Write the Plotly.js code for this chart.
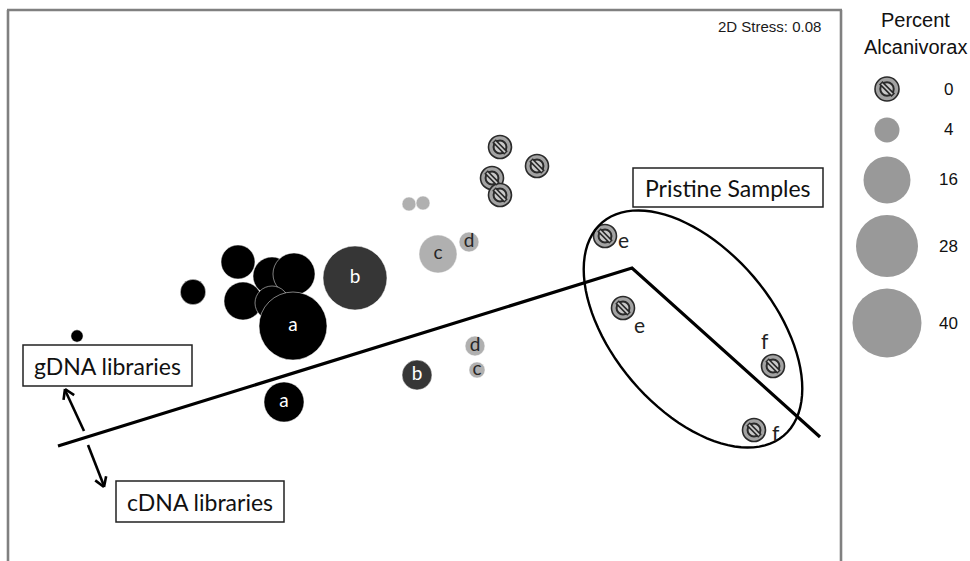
<!DOCTYPE html>
<html><head><meta charset="utf-8">
<script src="https://cdn.plot.ly/plotly-3.0.1.min.js"></script>
<style>html,body{margin:0;padding:0;background:#fff}#chart{width:970px;height:561px}</style>
</head><body><div id="chart"></div>
<script>
// ---- NMDS ordination: axis 1 / axis 2 scores and % Alcanivorax per library ----
// gDNA libraries, group "a" (black)
const aX   = [-1.424, -0.96, -0.78, -0.644, -0.556, -0.76, -0.644, -0.56, -0.596];
const aY   = [-0.104, 0.072, 0.192, 0.136, 0.144, 0.036, 0.028, -0.064, -0.368];
const aPct = [1, 4.2, 8.9, 11.1, 13.3, 11.1, 8.9, 38.3, 12.2];
const aLab = ['', '', '', '', '', '', '', 'a', 'a'];
// group "b" (dark grey)
const bX   = [-0.312, -0.064];
const bY   = [0.128, -0.26];
const bPct = [31.4, 6.7];
const bLab = ['b', 'b'];
// groups "c" / "d" (light grey)
const cdX   = [-0.096, -0.04, 0.02, 0.144, 0.168, 0.176];
const cdY   = [0.424, 0.428, 0.224, 0.272, -0.144, -0.24];
const cdPct = [1.4, 1.4, 11.1, 2.8, 2.8, 1.9];
const cdLab = ['', '', 'c', 'd', 'd', 'c'];
// libraries with no Alcanivorax (hatched symbol)
const zeroX = [0.268, 0.416, 0.236, 0.268];
const zeroY = [0.652, 0.576, 0.528, 0.46];
// pristine samples (no Alcanivorax)
const priX   = [0.688, 0.76, 1.36, 1.284];
const priY   = [0.296, 0.008, -0.224, -0.48];
const priLab = ['e', 'e', 'f', 'f'];
// bubble-size key
const keyPct = [0, 4, 16, 28, 40];
const keyLab = ['0', '4', '16', '28', '40'];

// ---- styling helpers ----
const W = 970, H = 561;
const keyDiam = [8, 25, 47, 62, 69];           // marker diameter (px) at each key percentage
function sizeFor(p) {
  for (let i = 1; i < keyPct.length; i++) {
    if (p <= keyPct[i]) {
      const t = (p - keyPct[i - 1]) / (keyPct[i] - keyPct[i - 1]);
      return keyDiam[i - 1] + t * (keyDiam[i] - keyDiam[i - 1]);
    }
  }
  return keyDiam[keyDiam.length - 1];
}
const px = x => x / W;            // page pixel -> paper
const py = y => 1 - y / H;
const LBL = 'Lato, "Open Sans", sans-serif';
const ARIAL = '"Liberation Sans", Arial, sans-serif';
const HATCH_D = 23;

function hatchedLayers(xs, ys, xa, ya, d) {
  const base = {x: xs, y: ys, xaxis: xa, yaxis: ya, type: 'scatter', mode: 'markers',
                hoverinfo: 'skip', showlegend: false, cliponaxis: false};
  return [
    Object.assign({}, base, {marker: {symbol: 'circle', size: d, color: '#a3a3a3', line: {color: '#2a2a2a', width: 1.6}}}),
    Object.assign({}, base, {marker: {symbol: 'circle', size: d * 0.56, color: '#c9c9c9', line: {color: '#2a2a2a', width: 2}}}),
    Object.assign({}, base, {marker: {symbol: 'line-nw', size: d * 0.52, line: {color: '#2a2a2a', width: 5}}}),
    Object.assign({}, base, {marker: {symbol: 'line-nw', size: d * 0.44, line: {color: '#d0d0d0', width: 1.6}}})
  ];
}

function bubbles(xs, ys, pct, labs, fill, edge, edgeW, txtColor) {
  return {
    x: xs, y: ys, type: 'scatter', mode: 'markers+text', text: labs,
    textposition: 'middle center', hoverinfo: 'skip', showlegend: false, cliponaxis: false,
    textfont: {family: LBL, size: 19, color: txtColor},
    marker: {symbol: 'circle', size: pct.map(sizeFor), color: fill, opacity: 1,
             line: {color: edge, width: edgeW}}
  };
}

const traces = [];
traces.push(bubbles(aX, aY, aPct, aLab, '#000000', '#ffffff', 0.5, '#ffffff'));
traces.push(bubbles(bX, bY, bPct, bLab, '#363636', '#ffffff', 0.5, '#ffffff'));
traces.push(bubbles(cdX, cdY, cdPct, cdLab, '#b0b0b0', '#ffffff', 0.5, '#262626'));
traces.push(...hatchedLayers(zeroX, zeroY, 'x', 'y', HATCH_D));
traces.push(...hatchedLayers(priX, priY, 'x', 'y', HATCH_D));

// key: vertical stack of symbols on a pixel-scaled overlay axis
const keyRowY = [89, 130, 180, 246, 323];
const keyColX = 887;
traces.push(...hatchedLayers([keyColX], [keyRowY[0]], 'x2', 'y2', 24));
traces.push({
  x: keyRowY.slice(1).map(() => keyColX), y: keyRowY.slice(1), xaxis: 'x2', yaxis: 'y2',
  type: 'scatter', mode: 'markers', hoverinfo: 'skip', showlegend: false, cliponaxis: false,
  marker: {symbol: 'circle', size: keyPct.slice(1).map(sizeFor), color: '#999999', opacity: 1, line: {width: 0}}
});

// ---- decorations ----
const shapes = [];
function seg(x0, y0, x1, y1, w, c) {
  shapes.push({type: 'line', xref: 'paper', yref: 'paper', x0: px(x0), y0: py(y0), x1: px(x1), y1: py(y1),
               line: {color: c, width: w}});
}
function arrowHead(xt, yt, xf, yf, len, w) {
  const dx = xt - xf, dy = yt - yf, L = Math.hypot(dx, dy);
  const ux = dx / L, uy = dy / L, ang = 32 * Math.PI / 180;
  [ang, -ang].forEach(a => {
    const rx = ux * Math.cos(a) - uy * Math.sin(a);
    const ry = ux * Math.sin(a) + uy * Math.cos(a);
    seg(xt, yt, xt - rx * len, yt - ry * len, w, '#000');
  });
}
function box(x0, y0, x1, y1) {
  shapes.push({type: 'rect', xref: 'paper', yref: 'paper', x0: px(x0), y0: py(y0), x1: px(x1), y1: py(y1),
               line: {color: '#222', width: 1.5}, fillcolor: '#ffffff', layer: 'above'});
}

// plot frame (open at the bottom)
seg(8, 10, 8, 561, 2.6, '#808080');
seg(7, 10, 842, 10, 2.6, '#808080');
seg(841, 10, 841, 561, 2.6, '#808080');

// gDNA / cDNA dividing line
shapes.push({type: 'path', xref: 'paper', yref: 'paper', layer: 'below',
  path: `M ${px(58)},${py(446)} L ${px(632)},${py(268)} L ${px(820)},${py(437)}`,
  line: {color: '#000', width: 3.2}});

// ellipse around the pristine samples
(function () {
  const cx = 693, cy = 329, a = 140, b = 80, th = 49.6 * Math.PI / 180;
  let p = '';
  for (let i = 0; i <= 96; i++) {
    const t = 2 * Math.PI * i / 96;
    const ex = cx + a * Math.cos(t) * Math.cos(th) - b * Math.sin(t) * Math.sin(th);
    const ey = cy + a * Math.cos(t) * Math.sin(th) + b * Math.sin(t) * Math.cos(th);
    p += (i ? ' L ' : 'M ') + px(ex) + ',' + py(ey);
  }
  shapes.push({type: 'path', xref: 'paper', yref: 'paper', path: p + ' Z', line: {color: '#000', width: 2.4}});
})();

// double-headed arrow between the two boxes
seg(84, 431, 65, 390, 2.6, '#000');
seg(88, 445, 104, 486, 2.6, '#000');
arrowHead(65, 389, 84, 431, 11, 2.6);
arrowHead(104, 487, 88, 445, 11, 2.6);

box(633, 168, 823, 207);
box(23, 345, 192, 386);
box(116, 481, 284, 522);

const ann = [];
function txt(x, y, s, size, fam, color, xanchor) {
  ann.push({xref: 'paper', yref: 'paper', x: px(x), y: py(y), text: s, showarrow: false,
            xanchor: xanchor || 'center', yanchor: 'middle', font: {family: fam, size: size, color: color}});
}
txt(728, 188, 'Pristine Samples', 23, LBL, '#111');
txt(107, 366, 'gDNA libraries', 23, LBL, '#111');
txt(200, 502, 'cDNA libraries', 23, LBL, '#111');
txt(823, 26, '2D Stress: 0.08', 15, ARIAL, '#1a1a1a', 'right');
txt(915, 20, 'Percent', 20, ARIAL, '#111');
txt(915, 47, 'Alcanivorax', 20, ARIAL, '#111');
keyLab.forEach((s, i) => txt(948, keyRowY[i], s, 17, ARIAL, '#111'));

// letters beside the pristine-sample symbols
const priShift = [[18, -3], [16, -16], [-8, 26], [22, -2]];
priLab.forEach((s, i) => ann.push({
  x: priX[i], y: priY[i], xref: 'x', yref: 'y', text: s, showarrow: false,
  xshift: priShift[i][0], yshift: priShift[i][1],
  font: {family: LBL, size: 21, color: '#222'}
}));

const layout = {
  width: W, height: H, margin: {l: 0, r: 0, t: 0, b: 0},
  paper_bgcolor: '#fff', plot_bgcolor: '#fff', showlegend: false,
  xaxis: {range: [-1.732, 2.148], visible: false, fixedrange: true},
  yaxis: {range: [-1.004, 1.24], visible: false, fixedrange: true},
  xaxis2: {range: [0, W], overlaying: 'x', anchor: 'y2', visible: false, fixedrange: true},
  yaxis2: {range: [H, 0], overlaying: 'y', anchor: 'x2', visible: false, fixedrange: true},
  shapes: shapes, annotations: ann
};

Plotly.newPlot('chart', traces, layout, {staticPlot: true, displayModeBar: false});
</script></body></html>
